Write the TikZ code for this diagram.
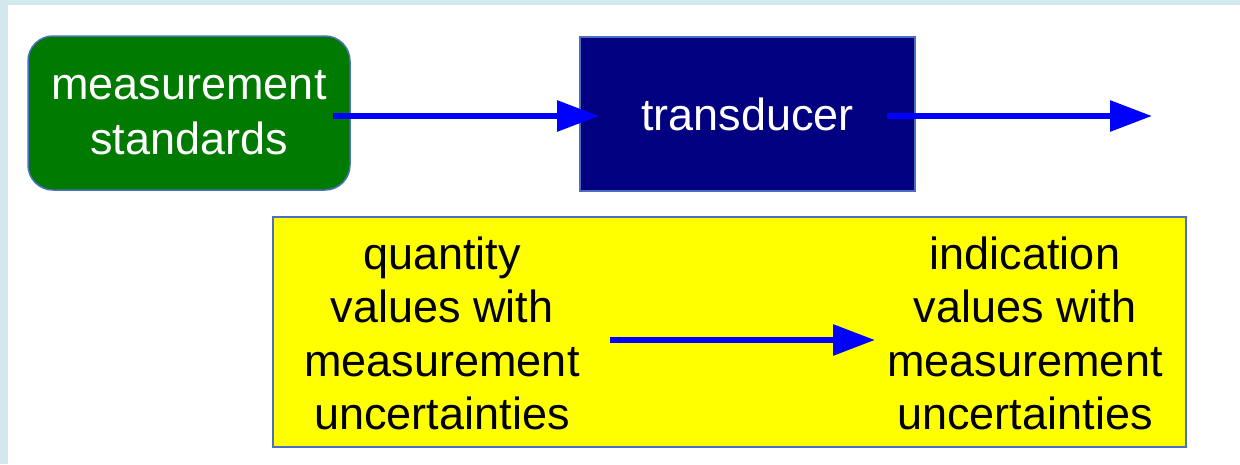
\documentclass[tikz,border=0pt]{standalone}
\usepackage{fontspec}
\setmainfont{Liberation Sans}
\usetikzlibrary{arrows.meta}
\definecolor{bgblue}{HTML}{D2E8EE}
\definecolor{edgeblue}{HTML}{4A6FC0}
\definecolor{stdgreen}{HTML}{007A00}
\definecolor{navybox}{HTML}{000080}
\definecolor{arrowblue}{HTML}{0000FF}
\definecolor{panelyellow}{HTML}{FFFF00}
\begin{document}
\begin{tikzpicture}[x=1pt,y=-1pt,
  bigtext/.style={font=\fontsize{45}{53.5}\selectfont, align=center, inner sep=0pt},
  boxstyle/.style={draw=edgeblue, line width=1.5pt, bigtext},
  flow/.style={draw=arrowblue, line width=6pt, -{Triangle[length=42pt,width=30pt]}}]
\useasboundingbox (0,0) rectangle (1240,464);
\fill[bgblue] (0,0) rectangle (1240,464);
\fill[white] (8,5) rectangle (1240,464);
\node[boxstyle, fill=stdgreen, text=white, rounded corners=25pt,
      minimum width=322pt, minimum height=154pt, font=\fontsize{45}{55}\selectfont] (std) at (189,113) {measurement\\standards};
\node[boxstyle, fill=navybox, text=white,
      minimum width=335pt, minimum height=154pt] (trans) at (747.5,114) {\raisebox{-2pt}{transducer}};
\node[boxstyle, fill=panelyellow, minimum width=913pt, minimum height=230pt] (panel) at (729.5,332) {};
\node[bigtext] (qv) at (442,333.5) {quantity\\values with\\measurement\\uncertainties};
\node[bigtext] (iv) at (1025,333.5) {indication\\values with\\measurement\\uncertainties};
\coordinate (a1s) at (333,116);
\coordinate (a1e) at (599,116);
\coordinate (a2s) at (887,116);
\coordinate (a2e) at (1152,116);
\coordinate (a3s) at (610,340);
\coordinate (a3e) at (875,340);
\draw[flow] (a1s) -- (a1e);
\draw[flow] (a2s) -- (a2e);
\draw[flow] (a3s) -- (a3e);
\end{tikzpicture}
\end{document}
